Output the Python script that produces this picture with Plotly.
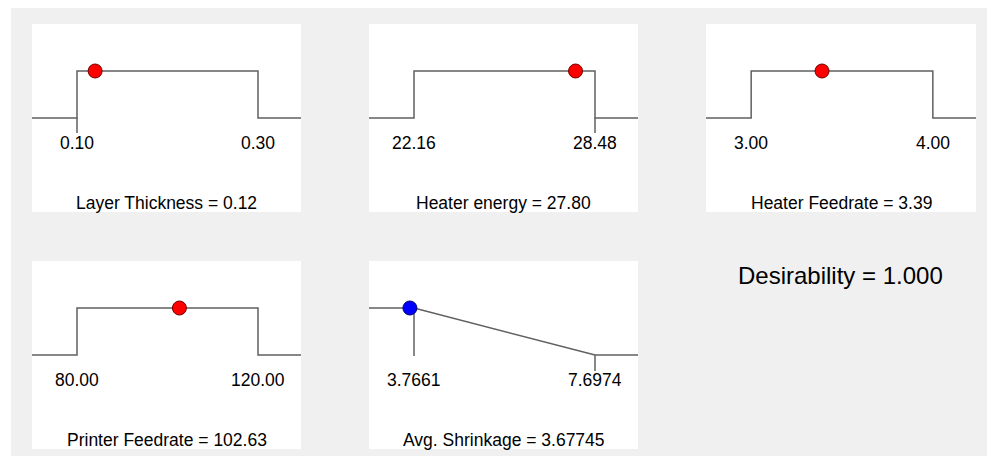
import plotly.graph_objects as go

# ---- data ----
factor_names = ["Layer Thickness", "Heater energy", "Heater Feedrate", "Printer Feedrate"]
factor_low = [0.10, 22.16, 3.00, 80.00]
factor_high = [0.30, 28.48, 4.00, 120.00]
factor_value = [0.12, 27.80, 3.39, 102.63]
factor_tick_ext = ["low", "high", None, None]   # which limit has a short tick below the ramp

response_name = "Avg. Shrinkage"
response_low = 3.7661
response_high = 7.6974
response_value = 3.67745
response_low_label = "3.7661"
response_high_label = "7.6974"
response_value_label = "3.67745"

desirability = 1.000

# ---- layout helpers ----
W, H = 987, 456
col_px = [(32, 301), (369, 638), (706, 976)]
row_px = [(24, 212), (261, 449)]
LEFT_FRAC = 45 / 181
RIGHT_FRAC = 43 / 181
LINE = dict(color="#606060", width=1.5)
FONT = dict(family="Liberation Sans, Arial, sans-serif", size=17.5, color="#000000")

panels = []
for i in range(4):
    panels.append(dict(kind="factor", idx=i))
panels.append(dict(kind="response"))

fig = go.Figure()
shapes = [dict(type="rect", xref="paper", yref="paper", x0=11 / W, x1=1, y0=0, y1=1 - 8 / H,
               fillcolor="#f0f0f0", line_width=0, layer="below")]
annotations = []

for k, p in enumerate(panels):
    r, c = divmod(k, 3)
    n = k + 1
    xa = "x" if n == 1 else f"x{n}"
    ya = "y" if n == 1 else f"y{n}"
    xl, xr = col_px[c]
    yt, yb = row_px[r]
    shapes.append(dict(type="rect", xref="paper", yref="paper", x0=xl / W, x1=xr / W,
                       y0=1 - yb / H, y1=1 - yt / H, fillcolor="white", line_width=0, layer="below"))
    if p["kind"] == "factor":
        i = p["idx"]
        lo, hi, val = factor_low[i], factor_high[i], factor_value[i]
        lo_lab, hi_lab = f"{lo:.2f}", f"{hi:.2f}"
        title = f"{factor_names[i]} = {val:.2f}"
    else:
        lo, hi, val = response_low, response_high, response_value
        lo_lab, hi_lab = response_low_label, response_high_label
        title = f"{response_name} = {response_value_label}"
    span = hi - lo
    xmin, xmax = lo - LEFT_FRAC * span, hi + RIGHT_FRAC * span
    if p["kind"] == "factor":
        fig.add_trace(go.Scatter(x=[xmin, lo, lo, hi, hi, xmax], y=[0, 0, 1, 1, 0, 0],
                                 mode="lines", line=LINE, xaxis=xa, yaxis=ya, hoverinfo="skip"))
        ext = factor_tick_ext[i]
        if ext is not None:
            tx = lo if ext == "low" else hi
            fig.add_trace(go.Scatter(x=[tx, tx], y=[0, -0.32], mode="lines", line=LINE,
                                     xaxis=xa, yaxis=ya, hoverinfo="skip"))
        mcol, mline = "#ff0000", "#700000"
    else:
        fig.add_trace(go.Scatter(x=[xmin, lo, hi, xmax], y=[1, 1, 0, 0],
                                 mode="lines", line=LINE, xaxis=xa, yaxis=ya, hoverinfo="skip"))
        fig.add_trace(go.Scatter(x=[lo, lo], y=[1, -0.02], mode="lines", line=LINE,
                                 xaxis=xa, yaxis=ya, hoverinfo="skip"))
        fig.add_trace(go.Scatter(x=[hi, hi], y=[0, -0.34], mode="lines", line=LINE,
                                 xaxis=xa, yaxis=ya, hoverinfo="skip"))
        mcol, mline = "#0000ff", "#000070"
    fig.add_trace(go.Scatter(x=[val], y=[1], mode="markers",
                             marker=dict(size=14, color=mcol, line=dict(color=mline, width=1)),
                             xaxis=xa, yaxis=ya, hoverinfo="skip"))
    annotations.append(dict(x=lo, y=-0.53, xref=xa, yref=ya, text=lo_lab, showarrow=False,
                            font=FONT, xanchor="center", yanchor="middle"))
    annotations.append(dict(x=hi, y=-0.53, xref=xa, yref=ya, text=hi_lab, showarrow=False,
                            font=FONT, xanchor="center", yanchor="middle"))
    annotations.append(dict(x=(xmin + xmax) / 2, y=-1.8, xref=xa, yref=ya, text=title, showarrow=False,
                            font=FONT, xanchor="center", yanchor="middle"))
    axkey = "xaxis" if n == 1 else f"xaxis{n}"
    aykey = "yaxis" if n == 1 else f"yaxis{n}"
    fig.update_layout(**{
        axkey: dict(domain=[xl / W, xr / W], range=[xmin, xmax], visible=False, fixedrange=True,
                    anchor=ya),
        aykey: dict(domain=[1 - yb / H, 1 - yt / H], range=[-2, 2], visible=False, fixedrange=True,
                    anchor=xa),
    })

annotations.append(dict(x=840 / W, y=1 - 275 / H, xref="paper", yref="paper",
                        text=f"Desirability = {desirability:.3f}", showarrow=False,
                        font=dict(family="Liberation Sans, Arial, sans-serif", size=24, color="#000000"),
                        xanchor="center", yanchor="middle"))

fig.update_layout(width=W, height=H, margin=dict(l=0, r=0, t=0, b=0),
                  paper_bgcolor="white", plot_bgcolor="rgba(0,0,0,0)",
                  showlegend=False, shapes=shapes, annotations=annotations)

fig.write_html("out.html", config={"displayModeBar": False},
               post_script="document.body.style.margin='0px';document.body.style.overflow='hidden';")
